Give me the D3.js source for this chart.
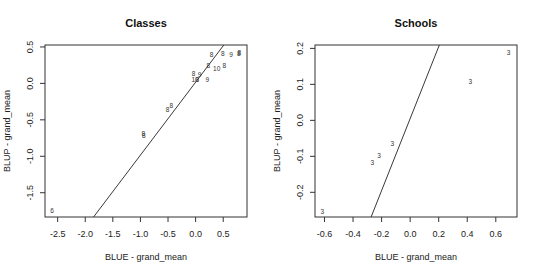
<!DOCTYPE html>
<html>
<head>
<meta charset="utf-8">
<script src="https://cdn.jsdelivr.net/npm/d3@7"></script>
<style>
  body { margin: 0; background: #fff; }
  text { font-family: "Liberation Sans", Arial, sans-serif; fill: #222; }
</style>
</head>
<body>
<div id="chart"></div>
<script>
var svgWidth = 540;
var svgHeight = 274;

// Classes panel: BLUE vs BLUP, labels are group sizes
var classBlue = [-2.59, -0.94, -0.93, -0.50, -0.43, -0.03, 0.08, 0.00, 0.04, 0.22,
  0.24, 0.39, 0.53, 0.30, 0.50, 0.65, 0.79, 0.80];
var classBlup = [-1.76, -0.70, -0.72, -0.37, -0.32, 0.13, 0.11, 0.05, 0.04, 0.04,
  0.23, 0.19, 0.23, 0.38, 0.40, 0.39, 0.40, 0.41];
var classSize = ["6", "8", "8", "8", "8", "8", "9", "10", "8", "9",
  "8", "10", "8", "8", "8", "9", "8", "8"];

// Schools panel
var schoolBlue = [-0.612, -0.261, -0.214, -0.121, 0.425, 0.693];
var schoolBlup = [-0.255, -0.120, -0.100, -0.067, 0.106, 0.187];
var schoolSize = ["3", "3", "3", "3", "3", "3"];

// axis limits and ticks
var classXDomain = [-2.72, 0.94];
var classYDomain = [-1.84, 0.52];
var classXTicks = [-2.5, -2.0, -1.5, -1.0, -0.5, 0.0, 0.5];
var classYTicks = [-1.5, -1.0, -0.5, 0.0, 0.5];

var schoolXDomain = [-0.663, 0.752];
var schoolYDomain = [-0.270, 0.208];
var schoolXTicks = [-0.6, -0.4, -0.2, 0.0, 0.2, 0.4, 0.6];
var schoolYTicks = [-0.2, -0.1, 0.0, 0.1, 0.2];

var margin = { top: 45, right: 23, bottom: 57, left: 45 };
var panelWidth = svgWidth / 2;
var width = panelWidth - margin.left - margin.right;
var height = svgHeight - margin.top - margin.bottom;

var svg = d3.select("#chart")
  .append("svg")
  .attr("width", svgWidth)
  .attr("height", svgHeight);

function drawPanel(offsetX, title, xs, ys, labels, xDomain, yDomain, xTicks, yTicks) {
  var g = svg.append("g")
    .attr("transform", `translate(${offsetX + margin.left}, ${margin.top})`);

  var x = d3.scaleLinear().domain(xDomain).range([0, width]);
  var y = d3.scaleLinear().domain(yDomain).range([height, 0]);

  var clipId = "clip" + offsetX;
  g.append("clipPath").attr("id", clipId)
    .append("rect").attr("width", width).attr("height", height);

  // y = x reference line
  var lo = Math.max(xDomain[0], yDomain[0]);
  var hi = Math.min(xDomain[1], yDomain[1]);
  g.append("line")
    .attr("clip-path", `url(#${clipId})`)
    .attr("x1", x(lo - 1)).attr("y1", y(lo - 1))
    .attr("x2", x(hi + 1)).attr("y2", y(hi + 1))
    .attr("stroke", "#222")
    .attr("stroke-width", 0.9);

  // point labels
  g.selectAll(".pt")
    .data(xs)
    .enter()
    .append("text")
    .attr("class", "pt")
    .attr("x", (d, i) => x(d))
    .attr("y", (d, i) => y(ys[i]))
    .attr("dy", "0.35em")
    .attr("text-anchor", "middle")
    .style("font-size", "6.5px")
    .style("fill", "#333")
    .text((d, i) => labels[i]);

  // axes
  var bottomAxis = d3.axisBottom(x)
    .tickValues(xTicks)
    .tickSize(5)
    .tickPadding(9)
    .tickFormat(d => d.toFixed(1));
  var xAxis = g.append("g")
    .attr("transform", `translate(0, ${height})`)
    .call(bottomAxis);
  xAxis.select(".domain").remove();
  xAxis.selectAll("line").attr("stroke", "#333");
  xAxis.selectAll("text")
    .style("font-size", "9px")
    .style("font-family", "Liberation Sans, Arial, sans-serif")
    .attr("fill", "#222");

  var leftAxis = d3.axisLeft(y)
    .tickValues(yTicks)
    .tickSize(5)
    .tickFormat(d => d.toFixed(1));
  var yAxis = g.append("g").call(leftAxis);
  yAxis.select(".domain").remove();
  yAxis.selectAll("line").attr("stroke", "#333");
  yAxis.selectAll("text")
    .attr("x", null)
    .attr("dy", null)
    .attr("transform", "translate(-12, 0) rotate(-90)")
    .attr("text-anchor", "middle")
    .style("font-size", "9px")
    .style("font-family", "Liberation Sans, Arial, sans-serif")
    .attr("fill", "#222");

  // box
  g.append("rect")
    .attr("width", width)
    .attr("height", height)
    .attr("fill", "none")
    .attr("stroke", "#333")
    .attr("stroke-width", 1);

  // titles
  g.append("text")
    .attr("x", width / 2)
    .attr("y", -18)
    .attr("text-anchor", "middle")
    .style("font-size", "11px")
    .style("font-weight", "bold")
    .style("fill", "#111")
    .text(title);

  g.append("text")
    .attr("x", width / 2)
    .attr("y", height + 43)
    .attr("text-anchor", "middle")
    .style("font-size", "9px")
    .text("BLUE - grand_mean");

  g.append("text")
    .attr("transform", `translate(-35, ${height / 2}) rotate(-90)`)
    .attr("text-anchor", "middle")
    .style("font-size", "9px")
    .text("BLUP - grand_mean");
}

drawPanel(0, "Classes", classBlue, classBlup, classSize,
  classXDomain, classYDomain, classXTicks, classYTicks);
drawPanel(panelWidth, "Schools", schoolBlue, schoolBlup, schoolSize,
  schoolXDomain, schoolYDomain, schoolXTicks, schoolYTicks);
</script>
</body>
</html>
